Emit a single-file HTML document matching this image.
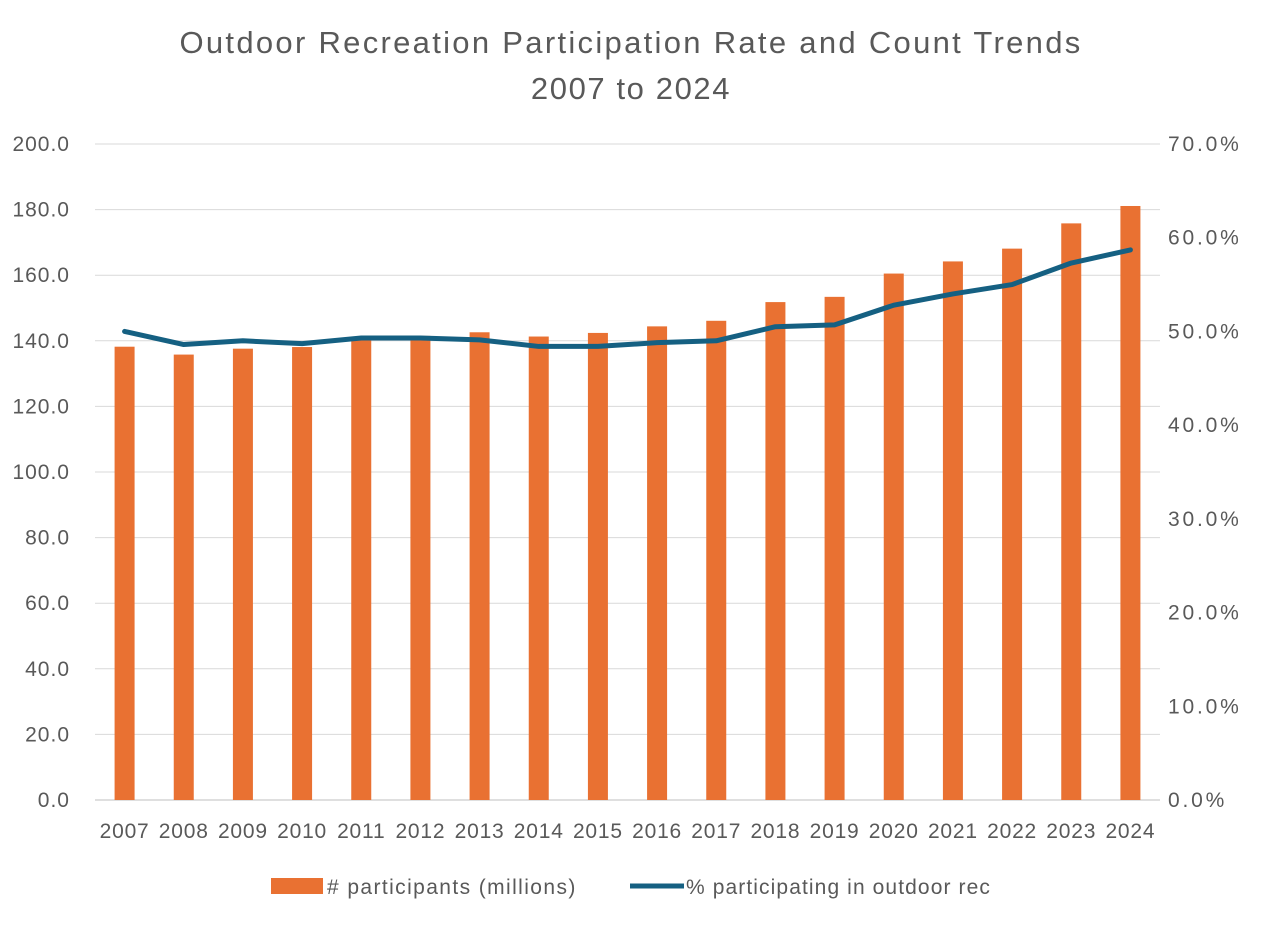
<!DOCTYPE html>
<html><head><meta charset="utf-8"><style>
body{margin:0;background:#fff;font-family:"Liberation Sans",sans-serif}
svg text{font-family:"Liberation Sans",sans-serif;fill:#595959}
</style></head><body>
<svg id="chart" width="1262" height="920">
<text x="631" y="53" text-anchor="middle" font-size="31" letter-spacing="2.3">Outdoor Recreation  Participation Rate and Count Trends</text>
<text x="631" y="99" text-anchor="middle" font-size="31" letter-spacing="1.6">2007 to 2024</text>
<g id="grid"></g><g id="bars"></g><g id="line"></g><g id="axes"></g>
<g>
<rect x="271" y="878" width="52" height="16" fill="#E97132"/>
<text x="327" y="894" font-size="21" letter-spacing="1.4"># participants (millions)</text>
<line x1="630" y1="886" x2="684" y2="886" stroke="#156082" stroke-width="5"/>
<text x="686" y="894" font-size="21" letter-spacing="1.1">% participating in outdoor rec</text>
</g>
</svg>
<script>
const years=[2007,2008,2009,2010,2011,2012,2013,2014,2015,2016,2017,2018,2019,2020,2021,2022,2023,2024];
const participants=[138.2,135.8,137.6,138.1,141.2,141.5,142.6,141.3,142.4,144.4,146.1,151.8,153.4,160.5,164.2,168.1,175.8,181.1];
const rates=[50.0,48.6,49.0,48.7,49.3,49.3,49.1,48.4,48.4,48.8,49.0,50.5,50.7,52.8,54.0,55.0,57.3,58.7];
const leftTicks=[0,20,40,60,80,100,120,140,160,180,200];
const rightTicks=[0,10,20,30,40,50,60,70];
const NS="http://www.w3.org/2000/svg";
const x0=95,x1=1160,yTop=144,yBot=800;
const step=(x1-x0)/years.length;
const xc=i=>x0+step*(i+0.5);
const yL=v=>yBot-(v/200)*(yBot-yTop);
const yR=v=>yBot-(v/70)*(yBot-yTop);
function mk(tag,attrs,parent){const e=document.createElementNS(NS,tag);for(const k in attrs)e.setAttribute(k,attrs[k]);document.getElementById(parent).appendChild(e);return e;}
leftTicks.forEach(t=>{
 const g=mk('line',{x1:x0,x2:x1,y1:yL(t),y2:yL(t),stroke:t===0?'#bfbfbf':'#d9d9d9','stroke-width':1},'grid');
 
 
 const l=mk('text',{x:70,y:yL(t)+7,'text-anchor':'end','font-size':21,'letter-spacing':1},'axes');l.textContent=t.toFixed(1);
 
 
});
rightTicks.forEach(t=>{
 const l=mk('text',{x:1168,y:yR(t)+7,'font-size':21,'letter-spacing':2.8},'axes');l.textContent=t.toFixed(1)+'%';
 
 
});
years.forEach((yr,i)=>{
 const b=mk('rect',{x:xc(i)-10,y:yL(participants[i]),width:20,height:yBot-yL(participants[i]),fill:'#E97132'},'bars');
 
 
 const l=mk('text',{x:xc(i),y:838,'text-anchor':'middle','font-size':21,'letter-spacing':0.8},'axes');l.textContent=yr;
 
 
});
const p=mk('polyline',{points:rates.map((r,i)=>xc(i)+','+yR(r)).join(' '),fill:'none',stroke:'#156082','stroke-width':5,'stroke-linejoin':'round','stroke-linecap':'round'},'line');


</script>
</body></html>
